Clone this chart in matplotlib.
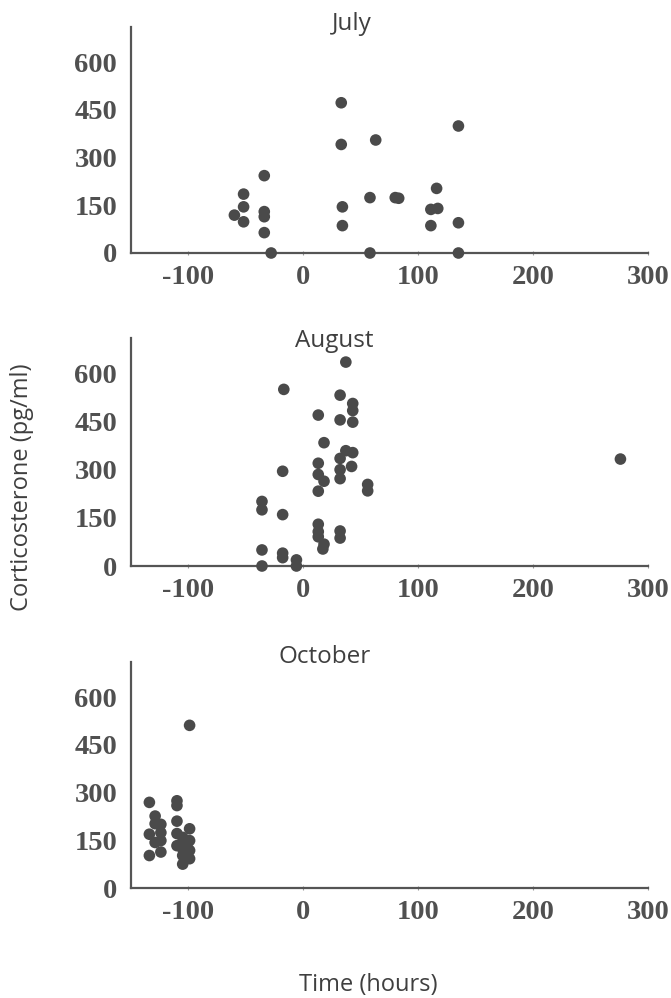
import matplotlib
matplotlib.use("Agg")
import matplotlib.pyplot as plt

plt.rcParams['axes.unicode_minus'] = False

# ---------------- data ----------------
july_x = [-60, -52, -52, -52, -34, -34, -34, -34, -28, 33, 33, 34, 34, 58, 58, 63, 80, 83,
          111, 111, 117, 116, 135, 135, 135]
july_y = [119, 185, 145, 98, 243, 130, 114, 64, 0, 472, 341, 145, 86, 0, 174, 355, 174, 172,
          86, 137, 140, 203, 399, 95, 0]

aug_x = [37, -17, 32, 43, 43, 13, 32, 43, 18, 37, 43, 32, 13, 42, -18, 32, 32, 13, 18, 13,
         56, 56, -36, -36, -18, 13, 13, 13, 18, 17, 32, 32, -36, -36, -18, -18, -6, -6, 276]
aug_y = [635, 550, 532, 506, 484, 470, 455, 448, 384, 359, 353, 335, 320, 310, 295, 300, 272,
         285, 264, 233, 254, 234, 201, 175, 160, 130, 107, 91, 68, 53, 109, 87, 50, 0, 40, 26,
         19, 0, 333]

oct_x = [-99, -134, -110, -110, -129, -124, -129, -110, -134, -124, -129, -124, -134, -124,
         -110, -110, -99, -105, -99, -105, -99, -105, -99, -105, -106, -101]
oct_y = [511, 269, 274, 259, 226, 200, 202, 210, 169, 174, 143, 149, 102, 113, 171, 133, 186,
         159, 149, 123, 118, 102, 92, 75, 138, 140]

panels = [("July", july_x, july_y), ("August", aug_x, aug_y), ("October", oct_x, oct_y)]
x_ticks = [-100, 0, 100, 200, 300]
y_ticks = [0, 150, 300, 450, 600]

# --------------- layout ---------------
W, H = 671, 998
fig = plt.figure(figsize=(W / 100, H / 100), dpi=100)

axes_px = [(27, 253), (338, 566), (662, 888)]   # (top, bottom) in pixels
title_px = [(352, 24), (334, 341), (325, 657)]
left_px, right_px = 131, 648

sans = "Open Sans"
serif = "Liberation Serif"
tick_col = "#505050"
text_col = "#3f3f3f"
dot_col = "#4a4a4a"
spine_col = "#555555"

for (name, xs, ys), (top, bot), (tx, ty) in zip(panels, axes_px, title_px):
    ax = fig.add_axes([left_px / W, 1 - bot / H, (right_px - left_px) / W, (bot - top) / H])
    ax.scatter(xs, ys, s=70, color=dot_col, edgecolors="none", clip_on=False, zorder=3)
    ax.set_xlim(-150, 300)
    ax.set_ylim(0, 710)
    ax.set_xticks(x_ticks)
    ax.set_yticks(y_ticks)
    ax.set_xticklabels([str(v) for v in x_ticks])
    ax.set_yticklabels([str(v) for v in y_ticks])
    for s in ("top", "right"):
        ax.spines[s].set_visible(False)
    for s in ("left", "bottom"):
        ax.spines[s].set_color(spine_col)
        ax.spines[s].set_linewidth(1.6)
    ax.tick_params(axis="x", direction="inout", length=3, width=0.8, color="#999999", pad=7)
    ax.tick_params(axis="y", length=0, pad=10)
    for lab in ax.get_xticklabels() + ax.get_yticklabels():
        lab.set_fontfamily(serif)
        lab.set_fontweight("bold")
        lab.set_fontsize(20.5)
        lab.set_color(tick_col)
    fig.text(tx / W, 1 - ty / H, name, ha="center", va="center",
             fontsize=17.5, family=sans, color=text_col)

fig.text(22 / W, 1 - 487 / H, "Corticosterone (pg/ml)", rotation=90, ha="center", va="center",
         fontsize=17, family=sans, color=text_col)
fig.text(368 / W, 1 - 985 / H, "Time (hours)", ha="center", va="center",
         fontsize=17, family=sans, color=text_col)

fig.savefig("out.png", dpi=100, facecolor="white")
